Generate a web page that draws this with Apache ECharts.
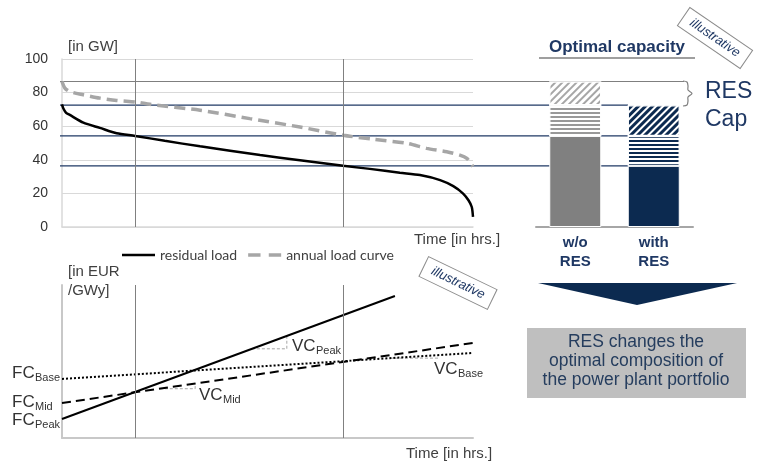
<!DOCTYPE html>
<html>
<head>
<meta charset="utf-8">
<script src="https://cdn.jsdelivr.net/npm/echarts@6/dist/echarts.min.js"></script>
<style>
html, body { margin: 0; padding: 0; background: #fff; }
#chart { width: 762px; height: 464px; }
</style>
</head>
<body>
<div id="chart"></div>
<script>
// load duration curves (x = share of the year in %, y = GW)
const residualT = [0, 0.3, 1, 1.9, 5.2, 9.2, 13.3, 17.8, 25, 33.6, 48.2, 57.9, 68.4, 74.9, 82.2, 87.1, 92, 95.2, 97.6, 98.9, 99.7, 100]
const residualGW = [73, 70.7, 68, 66.7, 62.1, 59, 55.8, 54.2, 51.3, 48, 42.8, 39.8, 36.4, 34.6, 32.3, 30.9, 27.9, 24.3, 19.9, 15.9, 11.9, 6]
const annualT = [0, 0.7, 1.9, 5.2, 9.2, 13.3, 18.2, 21.4, 33.6, 45.7, 57.9, 68.4, 76, 83.9, 88.7, 93.6, 96.8, 98.5, 99.7, 100]
const annualGW = [86.6, 82.7, 80.6, 78.7, 76.7, 75.3, 74.3, 73, 69.5, 64.5, 59.5, 54.6, 52.2, 49.8, 46.8, 44.8, 42.8, 40.9, 37, 36]
const splitHours = [17.8, 68.4]

// capacity levels carried over to the bars
const capLevels = [86.6, 72.5, 54.2, 36.4]
const capLevelEnds = [97.5, 88.75, 88.75, 88.75]

// optimal capacity bars
const barCats = ['w/o\nRES', 'with\nRES']
const baseCap = [54.2, 36.4]
const midCap = [18.3, 17.8]
const peakCap = [14.1, 18.3]

// screening curves (x = share of hours, y = cost)
const peakCost = [[0, 12.4], [81, 92.8]]
const midCost = [[0, 22.9], [100, 62.1]]
const baseCost = [[0, 38.6], [100, 55.6]]
const vcMidTri = [[23.8, 32.2], [32.4, 32.2], [32.4, 35.6]]
const vcPeakTri = [[46.2, 58.3], [54.7, 58.3], [54.7, 66.7]]
const vcBaseTri = [[79.8, 52.2], [91.5, 52.2], [91.5, 54.2]]

const navy = '#0c2a50'
const navyText = '#1f3864'
const grayBar = '#808080'
const arial = 'Liberation Sans, Arial, sans-serif'

let mychart = echarts.init(document.getElementById('chart'))

function zip(xs, ys) {
  return xs.map((x, i) => [x, ys[i]])
}
function txt(x, y, text, font, fill, align) {
  return {
    type: 'text', x: x, y: y, z: 50,
    style: { text: text, font: font, fill: fill || '#333', align: align || 'left', textAlign: align || 'left', verticalAlign: 'middle', textVerticalAlign: 'middle' }
  }
}
function subLabel(x, y, main, sub, off) {
  return [
    txt(x, y, main, '17px ' + arial, '#333'),
    txt(x + off, y + 5, sub, '11px ' + arial, '#333')
  ]
}
function stamp(x, y, rot) {
  return {
    type: 'group', x: x, y: y, rotation: rot, z: 60,
    children: [
      { type: 'rect', shape: { x: -38, y: -11, width: 76, height: 22 }, style: { fill: '#fff', stroke: '#8c8c8c', lineWidth: 1 } },
      { type: 'text', style: { text: 'illustrative', font: 'italic 13px ' + arial, fill: navyText, align: 'center', textAlign: 'center', verticalAlign: 'middle', textVerticalAlign: 'middle' } }
    ]
  }
}
function decal(color, rot, dy) {
  return { symbol: 'rect', symbolSize: 1, color: color, dashArrayX: [10, 0], dashArrayY: dy, rotation: rot }
}
const vMarks = {
  silent: true, symbol: 'none', label: { show: false },
  lineStyle: { color: '#808080', width: 1, type: 'solid' },
  data: splitHours.map(h => ({ xAxis: h }))
}

let option = {
  animation: false,
  backgroundColor: '#fff',
  grid: [
    { left: 62, right: 289, top: 59, bottom: 237, outerBoundsMode: 'none' },
    { left: 536, right: 69, top: 59, bottom: 237, outerBoundsMode: 'none' },
    { left: 60, right: 62, top: 59, bottom: 237, outerBoundsMode: 'none' },
    { left: 62, right: 289, top: 285, bottom: 26, outerBoundsMode: 'none' }
  ],
  legend: {
    left: 117, top: 243,
    itemWidth: 33, itemHeight: 14, itemGap: 11,
    textStyle: { fontFamily: 'Lato', fontSize: 14, color: '#404040' },
    data: [
      { name: 'residual load', icon: 'path://M0,0 L33,0 L33,2.5 L0,2.5 Z' },
      { name: 'annual load curve', icon: 'path://M0,0 L12,0 L12,3.5 L0,3.5 Z M20,0 L32,0 L32,3.5 L20,3.5 Z' }
    ]
  },
  xAxis: [
    { gridIndex: 0, type: 'value', min: 0, max: 100, axisLine: { lineStyle: { color: '#d9d9d9', width: 1.5 } }, axisTick: { show: false }, axisLabel: { show: false }, splitLine: { show: false } },
    {
      gridIndex: 1, type: 'category', data: barCats,
      axisLine: { lineStyle: { color: '#a6a6a6', width: 2 } }, axisTick: { show: false },
      axisLabel: { margin: 6, fontFamily: arial, fontWeight: 'bold', fontSize: 15, lineHeight: 19, color: navyText }
    },
    { gridIndex: 2, type: 'value', min: 0, max: 100, show: false },
    { gridIndex: 3, type: 'value', min: 0, max: 100, axisLine: { lineStyle: { color: '#c8c8c8', width: 2 } }, axisTick: { show: false }, axisLabel: { show: false }, splitLine: { show: false } }
  ],
  yAxis: [
    {
      gridIndex: 0, type: 'value', min: 0, max: 100, interval: 20,
      axisLine: { show: true, lineStyle: { color: '#d9d9d9', width: 1.5 } }, axisTick: { show: false },
      axisLabel: { margin: 14, fontFamily: arial, fontSize: 14, color: '#333' },
      splitLine: { lineStyle: { color: '#d9d9d9', width: 1 } }
    },
    { gridIndex: 1, type: 'value', min: 0, max: 100, show: false },
    { gridIndex: 2, type: 'value', min: 0, max: 100, show: false },
    { gridIndex: 3, type: 'value', min: 0, max: 100, axisLine: { show: true, lineStyle: { color: '#c8c8c8', width: 2 } }, axisTick: { show: false }, axisLabel: { show: false }, splitLine: { show: false } }
  ],
  series: [
    // capacity level lines
    ...capLevels.map((lvl, i) => ({
      type: 'line', xAxisIndex: 2, yAxisIndex: 2, z: 1, silent: true, symbol: 'none',
      lineStyle: { color: i === 0 ? '#7f7f7f' : '#1f3864', width: 1.2 },
      data: [[0, lvl], [capLevelEnds[i], lvl]]
    })),
    {
      name: 'residual load', type: 'line', xAxisIndex: 0, yAxisIndex: 0, z: 4,
      symbol: 'none', smooth: 0.25, color: '#000',
      lineStyle: { color: '#000', width: 2.5 },
      data: zip(residualT, residualGW),
      markLine: vMarks
    },
    {
      name: 'annual load curve', type: 'line', xAxisIndex: 0, yAxisIndex: 0, z: 4,
      symbol: 'none', smooth: 0.25, color: '#a6a6a6',
      lineStyle: { color: '#a6a6a6', width: 3.5, type: [11, 6] },
      data: zip(annualT, annualGW)
    },
    // bars
    {
      type: 'bar', xAxisIndex: 1, yAxisIndex: 1, stack: 'cap', barWidth: 52, z: 3,
      data: baseCap.map((v, i) => ({ value: v, itemStyle: { color: i === 0 ? grayBar : navy, borderColor: '#fff', borderWidth: 1 } }))
    },
    {
      type: 'bar', xAxisIndex: 1, yAxisIndex: 1, stack: 'cap', barWidth: 52, z: 3,
      data: midCap.map((v, i) => ({ value: v, itemStyle: { color: '#fff', borderColor: '#fff', borderWidth: 1.2, decal: decal(i === 0 ? '#999999' : navy, 0, [2, 2]) } }))
    },
    {
      type: 'bar', xAxisIndex: 1, yAxisIndex: 1, stack: 'cap', barWidth: 52, z: 3,
      data: peakCap.map((v, i) => ({ value: v, itemStyle: { color: '#fff', borderColor: '#fff', borderWidth: 1.2, decal: decal(i === 0 ? '#a6a6a6' : navy, -Math.PI / 4, i === 0 ? [2, 2.5] : [2.2, 2]) } }))
    },
    // screening curves
    {
      type: 'line', xAxisIndex: 3, yAxisIndex: 3, symbol: 'none', z: 4,
      lineStyle: { color: '#000', width: 2 }, data: peakCost, markLine: vMarks
    },
    {
      type: 'line', xAxisIndex: 3, yAxisIndex: 3, symbol: 'none', z: 4,
      lineStyle: { color: '#000', width: 2, type: [9, 5] }, data: midCost
    },
    {
      type: 'line', xAxisIndex: 3, yAxisIndex: 3, symbol: 'none', z: 4,
      lineStyle: { color: '#000', width: 2, type: [2, 2] }, data: baseCost
    },
    ...[vcMidTri, vcPeakTri, vcBaseTri].map(tri => ({
      type: 'line', xAxisIndex: 3, yAxisIndex: 3, symbol: 'none', z: 3,
      lineStyle: { color: '#a6a6a6', width: 1, type: [3, 2] }, data: tri
    }))
  ],
  graphic: [
    txt(68, 47, '[in GW]', '15px ' + arial, '#404040'),
    txt(414, 240, 'Time [in hrs.]', '15px ' + arial, '#404040'),
    txt(68, 272, '[in EUR', '15px ' + arial, '#404040'),
    txt(68, 291, '/GWy]', '15px ' + arial, '#404040'),
    txt(406, 454, 'Time [in hrs.]', '15px ' + arial, '#404040'),
    ...subLabel(12, 373, 'FC', 'Base', 23),
    ...subLabel(12, 402, 'FC', 'Mid', 23),
    ...subLabel(12, 420, 'FC', 'Peak', 23),
    ...subLabel(199, 395, 'VC', 'Mid', 24),
    ...subLabel(292, 346, 'VC', 'Peak', 24),
    ...subLabel(434, 369, 'VC', 'Base', 24),
    txt(617, 47, 'Optimal capacity', 'bold 17px ' + arial, navyText, 'center'),
    { type: 'line', shape: { x1: 539, y1: 58, x2: 695, y2: 58 }, style: { stroke: '#7f7f7f', lineWidth: 1.5 } },
    {
      type: 'polyline', z: 50,
      shape: { points: [[683, 81], [687, 82], [688, 86], [688, 90], [692, 93.5], [688, 97], [688, 101], [687, 105], [683, 106]], smooth: 0.3 },
      style: { fill: null, stroke: '#7f7f7f', lineWidth: 1.2 }
    },
    txt(705, 92, 'RES', '23px ' + arial, navyText),
    txt(705, 120, 'Cap', '23px ' + arial, navyText),
    stamp(715, 38, -0.6),
    stamp(458, 283, -0.45),
    { type: 'polygon', shape: { points: [[538, 283], [737, 283], [637, 305]] }, style: { fill: navy } },
    { type: 'rect', shape: { x: 527, y: 328, width: 219, height: 70 }, style: { fill: '#bfbfbf' } },
    txt(636, 342, 'RES changes the', '17.5px ' + arial, '#253d5e', 'center'),
    txt(636, 361, 'optimal composition of', '17.5px ' + arial, '#253d5e', 'center'),
    txt(636, 380, 'the power plant portfolio', '17.5px ' + arial, '#253d5e', 'center')
  ]
}
mychart.setOption(option)
</script>
</body>
</html>
